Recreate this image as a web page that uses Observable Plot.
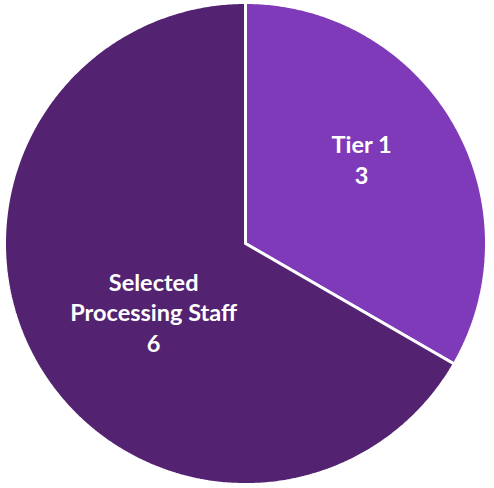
<!DOCTYPE html>
<html>
<head>
<meta charset="utf-8">
<script src="https://cdn.jsdelivr.net/npm/d3@7"></script>
<script src="https://cdn.jsdelivr.net/npm/@observablehq/plot@0.6"></script>
<style>
  html, body { margin: 0; padding: 0; background: #ffffff; }
  #chart svg { display: block; }
</style>
</head>
<body>
<div id="chart"></div>
<script>
const categories = ["Tier 1", "Selected Processing Staff"];
const values = [3, 6];
const colors = ["#7E3AB8", "#532372"];

// pie layout (angles measured clockwise from 12 o'clock)
const total = d3.sum(values);
let acc = 0;
const slices = categories.map((c, i) => {
  const a0 = acc / total * 2 * Math.PI;
  acc += values[i];
  const a1 = acc / total * 2 * Math.PI;
  return {category: c, value: values[i], a0, a1, color: colors[i]};
});

// polygon outline of each slice in unit coordinates
const outline = [];
slices.forEach(s => {
  outline.push({category: s.category, x: 0, y: 0});
  const n = Math.max(2, Math.ceil((s.a1 - s.a0) / (Math.PI / 360)));
  for (let k = 0; k <= n; k++) {
    const a = s.a0 + (s.a1 - s.a0) * k / n;
    outline.push({category: s.category, x: Math.sin(a), y: Math.cos(a)});
  }
  outline.push({category: s.category, x: 0, y: 0});
});

const labelR = [0.556, 0.44];
const labelDy = [-18, 15];
const labels = slices.map((s, i) => {
  const m = (s.a0 + s.a1) / 2;
  const name = s.category === "Selected Processing Staff" ? "Selected\nProcessing Staff" : s.category;
  return {text: name + "\n" + s.value, x: Math.sin(m) * labelR[i], y: Math.cos(m) * labelR[i], dy: labelDy[i]};
});

const chart = Plot.plot({
  width: 494,
  height: 488,
  margin: 0,
  x: {domain: [-1, 1], range: [4, 486], axis: null},
  y: {domain: [-1, 1], range: [484, 2], axis: null},
  color: {domain: categories, range: colors},
  style: {background: "#ffffff"},
  marks: [
    Plot.line(outline, {x: "x", y: "y", z: "category", fill: "category", stroke: "#ffffff", strokeWidth: 3, strokeLinejoin: "miter", curve: "linear"}),
    ...labels.map(l => Plot.text([l], {x: "x", y: "y", text: "text", dy: l.dy, fill: "#ffffff", fontSize: 23.5, fontWeight: "bold", fontFamily: "Lato, 'Open Sans', sans-serif", lineHeight: 1.3}))
  ]
});
document.getElementById("chart").appendChild(chart);
</script>
</body>
</html>
